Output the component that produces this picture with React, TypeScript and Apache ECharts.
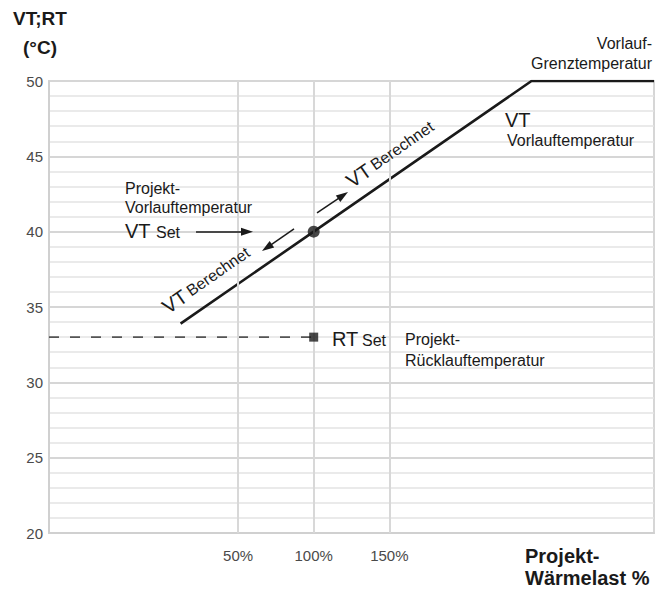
import React, { useEffect, useRef } from 'react';
import * as echarts from 'echarts';

// ---- data ----
const xMin = -75;
const xMax = 325;
const yMin = 20;
const yMax = 50;
const xTickLabels = [50, 100, 150];
const yTickLabels = [20, 25, 30, 35, 40, 45, 50];
const vtCurve = [[12, 33.9], [100, 40], [244, 50], [325, 50]];
const vtSetPoint = [[100, 40]];
const rtSetPoint = [[100, 33]];
const rtDashed = [[-75, 33], [100, 33]];
const arrowLines = [
  [[22.2, 40], [55.9, 40]],
  [[87.0, 40.18], [69.1, 38.94]],
  [[102.2, 41.24], [119.4, 42.41]],
];

const F = "'Liberation Sans', Arial, Helvetica, sans-serif";
const DARK = '#1a1a1a';

function txt(x: number, y: number, text: string, size: number, opts: any = {}) {
  return {
    type: 'text',
    x,
    y,
    z: 10,
    style: {
      text,
      fill: opts.fill || DARK,
      font: `${opts.weight || 'normal'} ${size}px ${F}`,
      textAlign: opts.align || 'left',
      textVerticalAlign: 'middle',
    },
  };
}

function rotText(x: number, y: number) {
  return {
    type: 'text',
    x,
    y,
    z: 10,
    rotation: 0.606,
    style: {
      text: '{a|VT} {b|Berechnet}',
      textAlign: 'left',
      textVerticalAlign: 'bottom',
      fill: DARK,
      rich: {
        a: { fontSize: 20, fontFamily: F, fill: DARK, lineHeight: 20 },
        b: { fontSize: 16, fontFamily: F, fill: DARK, lineHeight: 20 },
      },
    },
  };
}

export default function App() {
  const ref = useRef<HTMLDivElement>(null);
  useEffect(() => {
    if (!ref.current) return;
    const chart = echarts.init(ref.current, null, { renderer: 'svg' });
    const option: any = {
      animation: false,
      grid: {
        left: 49,
        right: 17,
        top: 81,
        bottom: 56,
        show: true,
        borderColor: '#d6d6d6',
        borderWidth: 2,
        backgroundColor: 'transparent',
      },
      xAxis: {
        type: 'value',
        min: xMin,
        max: xMax,
        interval: 25,
        axisLine: { show: true, onZero: false, lineStyle: { color: '#d0d0d0', width: 2 } },
        axisTick: { show: false },
        splitLine: { show: false },
        axisLabel: {
          margin: 15,
          fontSize: 15,
          fontFamily: F,
          color: '#4a4a4a',
          formatter: (v: number) => (xTickLabels.indexOf(v) >= 0 ? `${v}%` : ''),
        },
      },
      yAxis: {
        type: 'value',
        min: yMin,
        max: yMax,
        interval: 5,
        axisLine: { show: true, onZero: false, lineStyle: { color: '#d0d0d0', width: 2 } },
        axisTick: { show: false },
        axisLabel: {
          margin: 6,
          fontSize: 15,
          fontFamily: F,
          color: '#4a4a4a',
          formatter: (v: number) => (yTickLabels.indexOf(v) >= 0 ? `${v}` : ''),
        },
        splitLine: { show: true, lineStyle: { color: '#d6d6d6', width: 2 } },
        minorTick: { show: false, splitNumber: 5 },
        minorSplitLine: { show: true, lineStyle: { color: '#e3e3e3', width: 1.5 } },
      },
      series: [
        {
          type: 'line',
          data: [],
          silent: true,
          z: 1,
          markLine: {
            silent: true,
            symbol: ['none', 'none'],
            label: { show: false },
            lineStyle: { color: '#d8d8d8', width: 2, type: 'solid' },
            data: xTickLabels.map((v) => ({ xAxis: v })),
          },
        },
        {
          type: 'line',
          data: rtDashed,
          symbol: 'none',
          z: 3,
          lineStyle: { color: '#555', width: 1.8, type: [10, 11] },
        },
        {
          type: 'line',
          data: vtCurve,
          symbol: 'none',
          z: 4,
          lineStyle: { color: DARK, width: 2.6 },
        },
        {
          type: 'scatter',
          data: vtSetPoint,
          symbol: 'circle',
          symbolSize: 12,
          z: 5,
          itemStyle: { color: DARK },
        },
        {
          type: 'scatter',
          data: rtSetPoint,
          symbol: 'rect',
          symbolSize: 9,
          z: 5,
          itemStyle: { color: DARK },
        },
        {
          type: 'line',
          data: [],
          z: 5,
          markLine: {
            silent: true,
            symbol: ['none', 'triangle'],
            symbolSize: [8, 12],
            label: { show: false },
            lineStyle: { color: DARK, width: 1.5, type: 'solid' },
            itemStyle: { color: DARK },
            data: arrowLines.map((a) => [{ coord: a[0] }, { coord: a[1] }]),
          },
        },
      ],
      graphic: [
        txt(40, 18, 'VT;RT', 19, { align: 'center', weight: 'bold' }),
        txt(40, 47, '(°C)', 19, { align: 'center', weight: 'bold' }),
        txt(652, 43, 'Vorlauf-', 16, { align: 'right' }),
        txt(652, 63, 'Grenztemperatur', 16, { align: 'right' }),
        txt(505, 120, 'VT', 20),
        txt(507, 140, 'Vorlauftemperatur', 16),
        txt(125, 188, 'Projekt-', 16),
        txt(125, 207, 'Vorlauftemperatur', 16),
        txt(125, 231, 'VT', 20),
        txt(156, 232, 'Set', 16),
        txt(332, 339, 'RT', 20),
        txt(362, 340, 'Set', 16),
        txt(405, 339, 'Projekt-', 16),
        txt(405, 360, 'Rücklauftemperatur', 16),
        txt(525, 556, 'Projekt-', 20, { weight: 'bold' }),
        txt(525, 578, 'Wärmelast %', 20, { weight: 'bold' }),
        rotText(170, 317),
        rotText(354, 191),
      ],
    };
    chart.setOption(option);
    return () => chart.dispose();
  }, []);
  return <div ref={ref} style={{ width: 671, height: 589, position: 'absolute', left: 0, top: 0 }} />;
}
